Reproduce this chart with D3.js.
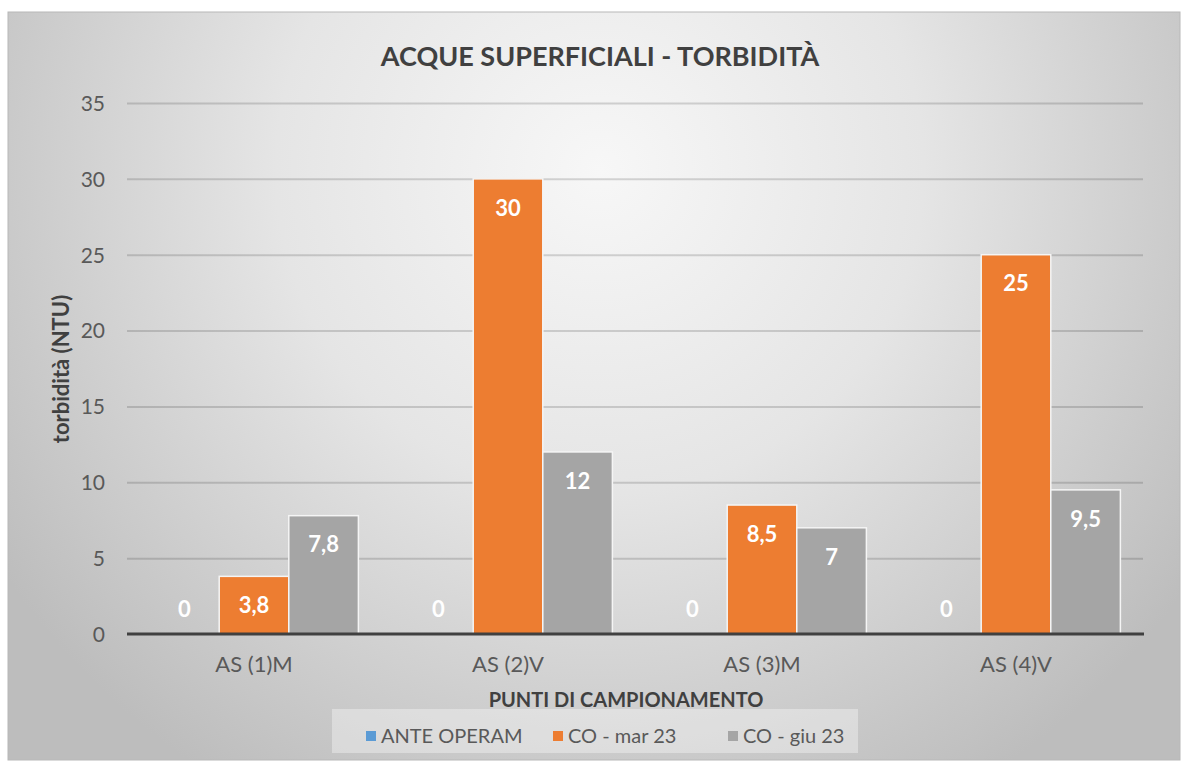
<!DOCTYPE html>
<html><head><meta charset="utf-8">
<script src="https://cdn.jsdelivr.net/npm/d3@7"></script>
<style>body{margin:0;background:#fff;}svg{display:block;font-family:Lato,"Open Sans",sans-serif;}</style>
</head><body>
<svg id="c" width="1183" height="762"></svg>
<script>
const categories = ["AS (1)M", "AS (2)V", "AS (3)M", "AS (4)V"];
const seriesNames = ["ANTE OPERAM", "CO - mar 23", "CO - giu 23"];
const anteOperam = [0, 0, 0, 0];
const coMar23 = [3.8, 30, 8.5, 25];
const coGiu23 = [7.8, 12, 7, 9.5];
const yTicks = [0, 5, 10, 15, 20, 25, 30, 35];
const colors = ["#5b9bd5", "#ed7d31", "#a5a5a5"];
const title = "ACQUE SUPERFICIALI - TORBIDITÀ";
const yTitle = "torbidità (NTU)";
const xTitle = "PUNTI DI CAMPIONAMENTO";

const seriesVals = [anteOperam, coMar23, coGiu23];
const svg = d3.select("#c");
const defs = svg.append("defs");
const rg = defs.append("radialGradient").attr("id","bg").attr("gradientUnits","userSpaceOnUse")
  .attr("cx",600).attr("cy",170).attr("r",720).attr("fx",600).attr("fy",170);
rg.append("stop").attr("offset","0%").attr("stop-color","#f7f7f7");
rg.append("stop").attr("offset","45%").attr("stop-color","#e5e5e5");
rg.append("stop").attr("offset","100%").attr("stop-color","#bdbdbd");

svg.append("rect").attr("x",8).attr("y",12).attr("width",1172).attr("height",748)
  .attr("fill","url(#bg)").attr("stroke","#b8b8b8").attr("stroke-width",1);

const L=127, R=1143, T=103, B=634;
const x = d3.scaleBand().domain(categories).range([L,R]).paddingInner(0).paddingOuter(0);
const y = d3.scaleLinear().domain([0,35]).range([B,T]);
const gap = 0.65;

// gridlines
svg.append("g").selectAll("line").data(yTicks.filter(d=>d>0)).join("line")
  .attr("x1",L).attr("x2",R).attr("y1",d=>y(d)+0.5).attr("y2",d=>y(d)+0.5)
  .attr("stroke","rgba(0,0,0,0.15)").attr("stroke-width",2);

// y axis labels
const yAxis = d3.axisLeft(y).tickValues(yTicks).tickSize(0).tickPadding(0).tickFormat(d=>d);
const ga = svg.append("g").attr("transform",`translate(${L-22},0)`).call(yAxis);
ga.select(".domain").remove();
ga.selectAll("text").attr("font-size",21).attr("fill","#595959").attr("font-family","Lato,'Open Sans',sans-serif").attr("dy","0.35em");

// bars
const barW = x.bandwidth()/(3+gap);
seriesVals.forEach((vals,si)=>{
  const g = svg.append("g");
  g.selectAll("rect").data(vals).join("rect")
    .attr("x",(d,i)=>x(categories[i]) + x.bandwidth()*gap/(3+gap)/2 + si*barW)
    .attr("y",d=>y(d)).attr("width",barW).attr("height",d=>B-y(d))
    .attr("fill",colors[si]).attr("stroke",d=>d>0?"#f5f5f5":"none").attr("stroke-width",1.5);
  g.selectAll("text").data(vals).join("text")
    .attr("x",(d,i)=>x(categories[i]) + x.bandwidth()*gap/(3+gap)/2 + (si+0.5)*barW)
    .attr("y",d=>Math.min(y(d)+29, B-25))
    .attr("text-anchor","middle").attr("dy","0.35em")
    .attr("font-size",22).attr("font-weight","bold").attr("fill","#ffffff")
    .text(d=>String(d).replace(".",","));
});

// baseline
svg.append("line").attr("x1",L).attr("x2",R+1).attr("y1",B).attr("y2",B)
  .attr("stroke","#404040").attr("stroke-width",3);

// x axis labels
const xAxis = d3.axisBottom(x).tickSize(0).tickPadding(0);
const gx = svg.append("g").attr("transform",`translate(0,${B+38})`).call(xAxis);
gx.select(".domain").remove();
gx.selectAll("text").attr("font-size",22).attr("fill","#595959").attr("font-family","Lato,'Open Sans',sans-serif").attr("dy","0");

// title
svg.append("text").attr("x",600).attr("y",57).attr("text-anchor","middle").attr("dy","0.35em")
  .attr("font-size",27).attr("font-weight","bold").attr("fill","#404040").text(title);
// y title
svg.append("text").attr("transform",`translate(61,369) rotate(-90)`).attr("text-anchor","middle").attr("dy","0.35em")
  .attr("font-size",22).attr("font-weight","bold").attr("fill","#404040").text(yTitle);
// x title
svg.append("text").attr("x",626).attr("y",700).attr("text-anchor","middle").attr("dy","0.35em")
  .attr("font-size",20).attr("font-weight","bold").attr("fill","#404040").text(xTitle);

// legend
const lg = svg.append("g");
lg.append("rect").attr("x",332).attr("y",709).attr("width",526).attr("height",44).attr("fill","rgba(255,255,255,0.35)");
const lx = [366, 553, 728];
seriesNames.forEach((n,i)=>{
  lg.append("rect").attr("x",lx[i]).attr("y",731).attr("width",10).attr("height",10).attr("fill",colors[i]);
  lg.append("text").attr("x",lx[i]+15).attr("y",736).attr("dy","0.35em").attr("font-size",20).attr("fill","#595959").text(n);
});
</script>
</body></html>
